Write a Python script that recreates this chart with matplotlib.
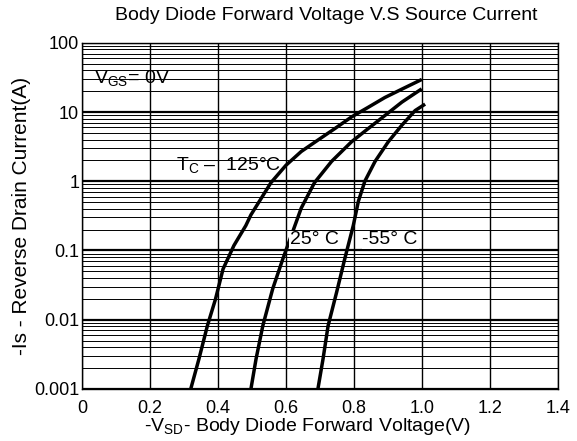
import matplotlib
matplotlib.use("Agg")
import matplotlib.pyplot as plt
from matplotlib.ticker import LogLocator, NullFormatter

plt.rcParams['font.family'] = ['Liberation Sans', 'DejaVu Sans']
plt.rcParams['mathtext.fontset'] = 'custom'
plt.rcParams['mathtext.rm'] = 'Liberation Sans'
plt.rcParams['mathtext.it'] = 'Liberation Sans'

title = "Body Diode Forward Voltage V.S Source Current"
xlabel = r"-V$_{\rm SD}$- Body Diode Forward Voltage(V)"
ylabel = "-Is - Reverse Drain Current(A)"

x_ticks = [0, 0.2, 0.4, 0.6, 0.8, 1.0, 1.2, 1.4]
x_ticklabels = ["0", "0.2", "0.4", "0.6", "0.8", "1.0", "1.2", "1.4"]
y_ticks = [0.001, 0.01, 0.1, 1, 10, 100]
y_ticklabels = ["0.001", "0.01", "0.1", "1", "10", "100"]

v_125 = [0.320, 0.344, 0.369, 0.393, 0.415, 0.447, 0.482, 0.497, 0.556, 0.600,
         0.645, 0.694, 0.744, 0.793, 0.842, 0.891, 0.941, 0.995]
i_125 = [0.001, 0.0027, 0.0082, 0.020, 0.054, 0.118, 0.229, 0.327, 0.955, 1.70,
         2.69, 3.93, 5.77, 8.5, 11.7, 16.2, 21.4, 28.8]

v_25 = [0.497, 0.512, 0.532, 0.561, 0.591, 0.625, 0.645, 0.684, 0.734, 0.793,
        0.842, 0.891, 0.941, 0.995]
i_25 = [0.001, 0.0027, 0.0082, 0.0279, 0.0759, 0.219, 0.41, 0.955, 1.93, 3.72,
        5.77, 8.9, 13.9, 20.9]

v_m55 = [0.694, 0.709, 0.724, 0.749, 0.773, 0.798, 0.813, 0.832, 0.862, 0.901,
         0.941, 0.980, 1.005]
i_m55 = [0.001, 0.0027, 0.0082, 0.0249, 0.0759, 0.229, 0.513, 1.0, 1.93, 3.72,
         6.46, 10.5, 12.6]

fig = plt.figure(figsize=(5.77, 4.41), dpi=100)
ax = fig.add_axes([0.142, 0.118, 0.825, 0.785])
ax.set_yscale('log')
ax.set_xlim(0, 1.4)
ax.set_ylim(0.001, 100)

# grid
ax.yaxis.set_minor_locator(LogLocator(base=10, subs=range(2, 10)))
ax.yaxis.set_minor_formatter(NullFormatter())
ax.grid(True, which='minor', axis='y', color='black', lw=0.7)
ax.grid(True, which='major', axis='y', color='black', lw=1.6)
ax.grid(True, which='major', axis='x', color='black', lw=1.0)
ax.set_axisbelow(True)

ax.set_xticks(x_ticks)
ax.set_xticklabels(x_ticklabels)
ax.set_yticks(y_ticks)
ax.set_yticklabels(y_ticklabels)
ax.tick_params(axis='both', which='both', length=0, labelsize=13)
ax.tick_params(axis='x', pad=8)
ax.tick_params(axis='y', pad=2)
for s in ax.spines.values():
    s.set_linewidth(1.0)

for v, i in [(v_125, i_125), (v_25, i_25), (v_m55, i_m55)]:
    ax.plot(v, i, color='black', lw=2.5, solid_joinstyle='round')

ax.text(0.035, 31, r"V$_{\rm GS}$= 0V", fontsize=14, va='center', ha='left')
ax.text(0.278, 1.73, r"T$_{\rm C}$ –  125°C", fontsize=14, va='center', ha='left')
ax.text(0.612, 0.142, "25° C", fontsize=14, va='center', ha='left',
        bbox=dict(facecolor='white', edgecolor='none', pad=0.5))
ax.text(0.825, 0.142, "-55° C", fontsize=14, va='center', ha='left',
        bbox=dict(facecolor='white', edgecolor='none', pad=0.5))

fig.text(326 / 577, 1 - 16 / 441, title, fontsize=14, ha='center', va='center')
ax.set_xlabel(xlabel, fontsize=14)
ax.xaxis.set_label_coords(0.475, -0.077)
ax.set_ylabel(ylabel, fontsize=15, labelpad=2)

fig.savefig("out.png", dpi=100)
